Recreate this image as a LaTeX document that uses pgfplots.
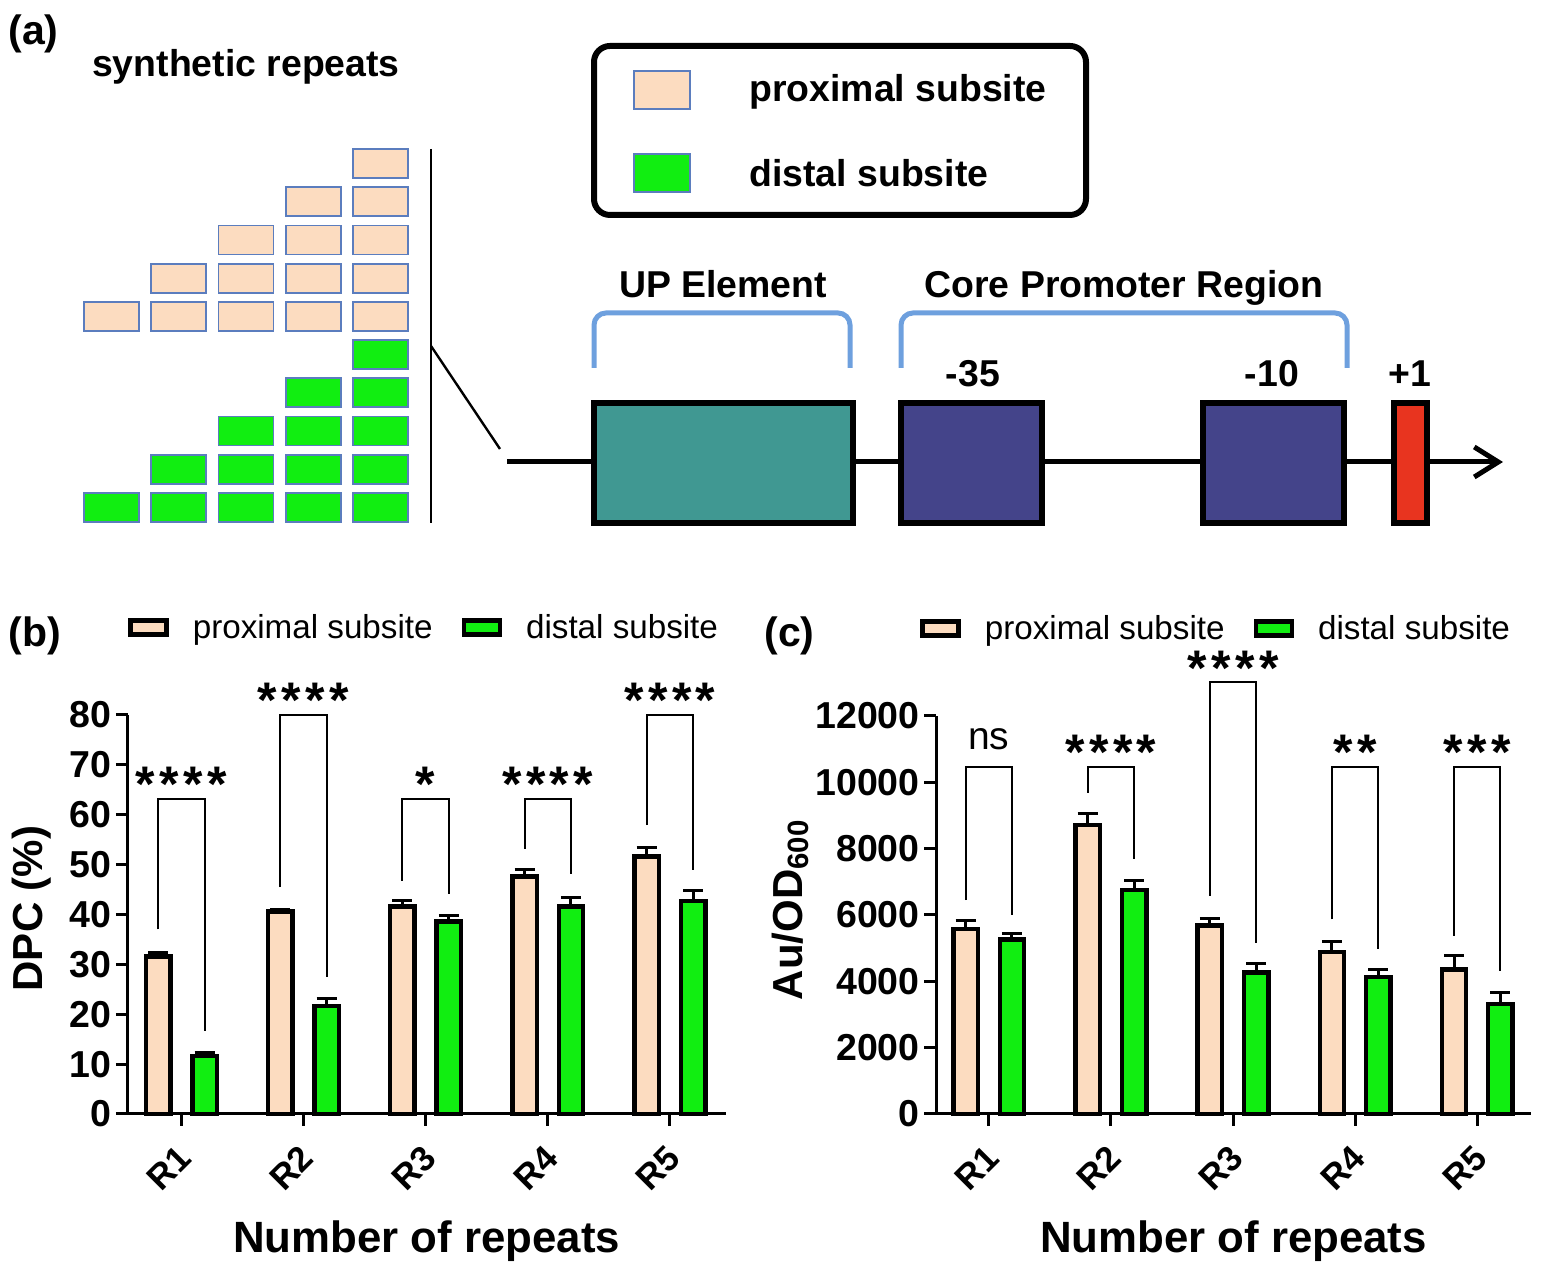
\documentclass[border=0pt]{standalone}
\usepackage{pgfplots}
\pgfplotsset{compat=1.18}
\usepackage{fontspec}
\setmainfont{Liberation Sans}
\usetikzlibrary{arrows.meta}

\definecolor{peach}{HTML}{FCDCC0}
\definecolor{lime}{HTML}{11EE11}
\definecolor{tealbox}{HTML}{409892}
\definecolor{navybox}{HTML}{44448A}
\definecolor{redbox}{HTML}{E8341F}
\definecolor{brk}{HTML}{6EA0DE}
\definecolor{edge}{HTML}{5B7DBE}

\newcommand\fs[1]{\fontsize{#1}{#1}\selectfont}
\newcommand\sk{\kern2.2pt}
\tikzset{st/.style={anchor=base, inner sep=0pt, font=\fs{25pt}\bfseries}}

\pgfplotsset{
  repeats/.style={
    anchor=south west, scale only axis, clip=false,
    xmin=0.5635, xmax=5.456, ymin=0,
    axis x line*=bottom, axis y line*=left,
    axis line style={line width=1.5pt, black},
    xtick={1,2,3,4,5}, xticklabels={R1,R2,R3,R4,R5},
    tick align=outside, major tick length=6pt,
    tick style={line width=1.5pt, black},
    /pgf/number format/assume math mode=true,
    /pgf/number format/1000 sep={},
    ticklabel style={font=\fs{18.75pt}\bfseries},
    xticklabel style={xshift=-2.5pt, yshift=-8.5pt, rotate=45, anchor=north east, inner sep=0pt, font=\fs{17.5pt}\bfseries},
    yticklabel style={inner sep=0pt, xshift=-2pt},
    xlabel={Number of repeats},
    xlabel style={at={(axis description cs:0.5,-0.348)}, anchor=base, font=\fs{21.9pt}\bfseries},
    legend columns=2, legend cell align=left,
  },
  leg/.style={legend style={at={(axis description cs:0,1)}, anchor=west,
    yshift=43.7pt, xshift=#1, draw=none, fill=none, inner sep=0pt,
    font=\fs{16.6pt}, nodes={inner sep=0pt},
    /tikz/every odd column/.append style={column sep=12pt},
    /tikz/every even column/.append style={column sep=14.5pt}}},
  errs/.style={error bars/.cd, y dir=plus, y explicit,
    error bar style={line width=1.5pt, black},
    error mark options={rotate=90, line width=1.5pt, black, mark size=5pt}},
  prox/.style={ybar, bar width=0.2, bar shift=0, fill=peach, draw=black, line width=2.2pt,
    legend image code/.code={\draw[fill=peach, draw=black, line width=2.2pt] (0pt,-3.5pt) rectangle (18pt,3.5pt);},
    errs},
  dist/.style={ybar, bar width=0.2, bar shift=0, fill=lime, draw=black, line width=2.2pt,
    legend image code/.code={\draw[fill=lime, draw=black, line width=2.2pt] (0pt,-3.5pt) rectangle (18pt,3.5pt);},
    errs},
  br/.style={sharp plot, black, line width=1pt, mark=none, forget plot},
}

\begin{document}
\begin{tikzpicture}
\useasboundingbox (0,0) rectangle (774pt,636pt);

% ---------- panel (a): schematic, coordinates in image pixels ----------
\begin{scope}[shift={(0pt,636pt)}, x=0.5pt, y=-0.5pt]
  \node[anchor=base west, font=\fs{20.5pt}\bfseries, inner sep=0pt] at (8,45) {(a)};
  \node[anchor=base, font=\fs{18.7pt}\bfseries, inner sep=0pt] at (246,77) {synthetic repeats};
  \foreach \i in {0,...,4}{
    \pgfmathtruncatemacro\s{4-\i}
    \foreach \j in {\s,...,4}{
      \draw[edge, line width=0.8pt, fill=peach] ({84+67.25*\j},{149+38.3*\i}) rectangle ++(55,29);
      \draw[edge, line width=0.8pt, fill=lime] ({84+67.25*\j},{340+38.3*\i}) rectangle ++(55,29);
    }
  }
  \draw[line width=1pt] (431,149) -- (431,523);
  \draw[line width=1.2pt] (431,346) -- (500,449);

  % legend box
  \draw[line width=3pt, rounded corners=8pt] (594,46) rectangle (1086,215);
  \draw[edge, line width=0.8pt, fill=peach] (634,71) rectangle (690,109);
  \draw[edge, line width=0.8pt, fill=lime] (634,154) rectangle (690,192);
  \node[anchor=base west, font=\fs{18.7pt}\bfseries, inner sep=0pt] at (749,102) {proximal subsite};
  \node[anchor=base west, font=\fs{18.7pt}\bfseries, inner sep=0pt] at (749,187) {distal subsite};

  % promoter
  \node[anchor=base, font=\fs{18.7pt}\bfseries, inner sep=0pt] at (723,298) {UP Element};
  \node[anchor=base, font=\fs{18.7pt}\bfseries, inner sep=0pt] at (1124,298) {Core Promoter Region};
  \draw[brk, line width=2.5pt, rounded corners=6pt] (594,368) -- (594,313) -- (850,313) -- (850,368);
  \draw[brk, line width=2.5pt, rounded corners=6pt] (901,368) -- (901,313) -- (1347,313) -- (1347,368);
  \draw[line width=2.5pt, -{Straight Barb[length=12pt, width=15pt]}] (507,462) -- (1503,462);
  \draw[line width=3pt, fill=tealbox] (594,403) rectangle (853,523);
  \draw[line width=3pt, fill=navybox] (901,403) rectangle (1042,523);
  \draw[line width=3pt, fill=navybox] (1203,403) rectangle (1344,523);
  \draw[line width=3pt, fill=redbox] (1394,403) rectangle (1427,523);
  \node[anchor=base, font=\fs{18.7pt}\bfseries, inner sep=0pt] at (973,387) {-35};
  \node[anchor=base, font=\fs{18.7pt}\bfseries, inner sep=0pt] at (1272,387) {-10};
  \node[anchor=base, font=\fs{18.7pt}\bfseries, inner sep=0pt] at (1410,387) {+1};

  \node[anchor=base west, font=\fs{20.5pt}\bfseries, inner sep=0pt] at (8,647) {(b)};
  \node[anchor=base west, font=\fs{20.5pt}\bfseries, inner sep=0pt] at (764,647) {(c)};
\end{scope}

% ---------- panel (b) ----------
\begin{axis}[repeats, leg=0pt,
  at={(64pt,79pt)}, width=298.8pt, height=199.5pt,
  ymax=80, ytick={0,10,...,80},
  ylabel={DPC (\%)},
  ylabel style={at={(axis description cs:-0.1615,0.515)}, anchor=center, font=\fs{21pt}\bfseries},
]
\addplot[prox] coordinates {(0.81,31.6) +- (0,0.8) (1.81,40.6) +- (0,0.5) (2.81,41.6) +- (0,1.2) (3.81,47.6) +- (0,1.4) (4.81,51.6) +- (0,1.9)};
\addlegendentry{proximal subsite}
\addplot[dist] coordinates {(1.19,11.6) +- (0,0.7) (2.19,21.6) +- (0,1.5) (3.19,38.6) +- (0,1.1) (4.19,41.6) +- (0,1.9) (5.19,42.7) +- (0,2.1)};
\addlegendentry{distal subsite}
\addplot[br] coordinates {(0.81,37) (0.81,63.1) (1.19,63.1) (1.19,16.7)};
\addplot[br] coordinates {(1.81,45.5) (1.81,80) (2.19,80) (2.19,27.5)};
\addplot[br] coordinates {(2.81,46.8) (2.81,63.1) (3.19,63.1) (3.19,44.2)};
\addplot[br] coordinates {(3.81,53.2) (3.81,63.1) (4.19,63.1) (4.19,48.1)};
\addplot[br] coordinates {(4.81,57.9) (4.81,80) (5.19,80) (5.19,48.9)};
\node[st] at (axis cs:1,62.6) {*\sk*\sk*\sk*};
\node[st] at (axis cs:2,79.4) {*\sk*\sk*\sk*};
\node[st] at (axis cs:3,62.6) {*};
\node[st] at (axis cs:4,62.6) {*\sk*\sk*\sk*};
\node[st] at (axis cs:5,79.4) {*\sk*\sk*\sk*};
\end{axis}

% ---------- panel (c) ----------
\begin{axis}[repeats, leg=-8pt,
  at={(468pt,79pt)}, width=297.5pt, height=199pt,
  xmin=0.568, xmax=5.44,
  ymax=12000, ytick={0,2000,...,12000}, scaled y ticks=false,
  ylabel={Au/OD\textsubscript{600}},
  ylabel style={at={(axis description cs:-0.245,0.513)}, anchor=center, font=\fs{21pt}\bfseries},
]
\addplot[prox] coordinates {(0.81,5580) +- (0,250) (1.81,8710) +- (0,350) (2.81,5680) +- (0,220) (3.81,4880) +- (0,310) (4.81,4360) +- (0,410)};
\addlegendentry{proximal subsite}
\addplot[dist] coordinates {(1.19,5265) +- (0,180) (2.19,6760) +- (0,270) (3.19,4260) +- (0,280) (4.19,4130) +- (0,230) (5.19,3320) +- (0,340)};
\addlegendentry{distal subsite}
\addplot[br] coordinates {(0.81,6450) (0.81,10450) (1.19,10450) (1.19,6000)};
\addplot[br] coordinates {(1.81,9680) (1.81,10450) (2.19,10450) (2.19,7680)};
\addplot[br] coordinates {(2.81,6580) (2.81,13025) (3.19,13025) (3.19,5160)};
\addplot[br] coordinates {(3.81,5870) (3.81,10450) (4.19,10450) (4.19,4970)};
\addplot[br] coordinates {(4.81,5380) (4.81,10450) (5.19,10450) (5.19,4320)};
\node[anchor=base, inner sep=0pt, font=\fs{19.5pt}] at (axis cs:1,10975) {ns};
\node[st] at (axis cs:2,10390) {*\sk*\sk*\sk*};
\node[st] at (axis cs:3,12907) {*\sk*\sk*\sk*};
\node[st] at (axis cs:4,10390) {*\sk*};
\node[st] at (axis cs:5,10390) {*\sk*\sk*};
\end{axis}
\end{tikzpicture}
\end{document}
